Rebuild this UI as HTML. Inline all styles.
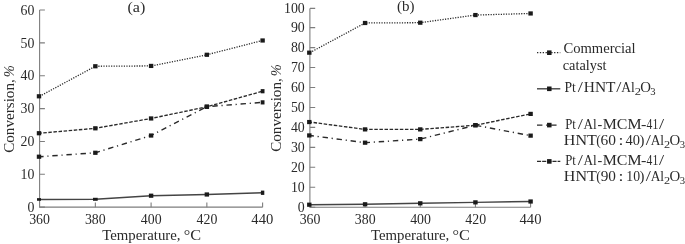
<!DOCTYPE html>
<html><head><meta charset="utf-8"><title>Conversion vs temperature</title>
<style>
html,body{margin:0;padding:0;background:#fff;}
svg{display:block;font-family:"Liberation Serif",serif;font-size:14.2px;fill:#2a2a2a;}
</style></head><body>
<svg width="685" height="244" viewBox="0 0 685 244">
<rect width="685" height="244" fill="#fff"/>
<g>
<path d="M39.6 10.0V207.15H262.6" fill="none" stroke="#7e7e7e" stroke-width="1.1"/>
<text y="211.85"><tspan x="27.50" textLength="6.92" lengthAdjust="spacingAndGlyphs">0</tspan></text>
<text y="178.99"><tspan x="20.58" textLength="13.84" lengthAdjust="spacingAndGlyphs">10</tspan></text>
<text y="146.13"><tspan x="20.58" textLength="13.84" lengthAdjust="spacingAndGlyphs">20</tspan></text>
<text y="113.28"><tspan x="20.58" textLength="13.84" lengthAdjust="spacingAndGlyphs">30</tspan></text>
<text y="80.42"><tspan x="20.58" textLength="13.84" lengthAdjust="spacingAndGlyphs">40</tspan></text>
<text y="47.56"><tspan x="20.58" textLength="13.84" lengthAdjust="spacingAndGlyphs">50</tspan></text>
<text y="14.70"><tspan x="20.58" textLength="13.84" lengthAdjust="spacingAndGlyphs">60</tspan></text>
<text y="223.65"><tspan x="29.15" textLength="20.77" lengthAdjust="spacingAndGlyphs">360</tspan></text>
<text y="223.65"><tspan x="84.90" textLength="20.77" lengthAdjust="spacingAndGlyphs">380</tspan></text>
<text y="223.65"><tspan x="140.84" textLength="20.77" lengthAdjust="spacingAndGlyphs">400</tspan></text>
<text y="223.65"><tspan x="196.59" textLength="20.77" lengthAdjust="spacingAndGlyphs">420</tspan></text>
<text y="223.65"><tspan x="251.36" textLength="21.94" lengthAdjust="spacingAndGlyphs">440</tspan></text>
<path d="M39.6 207.15h5.3M39.6 174.29h5.3M39.6 141.43h5.3M39.6 108.58h5.3M39.6 75.72h5.3M39.6 42.86h5.3M39.6 10.00h5.3M95.35 207.15v-4.7M151.10 207.15v-4.7M206.85 207.15v-4.7M262.60 207.15v-4.7" fill="none" stroke="#7e7e7e" stroke-width="1.1"/>
<text y="239.75"><tspan x="102.23" textLength="78.30" lengthAdjust="spacingAndGlyphs">Temperature,</tspan><tspan x="179.65" textLength="21.45" lengthAdjust="spacingAndGlyphs"> °C</tspan></text>
<text y="0.00" transform="translate(14.1 0) rotate(-90)"><tspan x="-152.82" textLength="77.36" lengthAdjust="spacingAndGlyphs">Conversion, </tspan><tspan x="-77.22" textLength="12.05" lengthAdjust="spacingAndGlyphs" font-style="italic">%</tspan></text>
<text y="11.60"><tspan x="127.49" textLength="17.81" lengthAdjust="spacingAndGlyphs">(a)</tspan></text>
<path d="M39.60 96.30L95.35 66.26L151.10 65.93L206.85 54.77L262.60 40.49" fill="none" stroke="#2a2a2a" stroke-width="1.3" stroke-dasharray="1.2 1.35"/>
<rect x="36.80" y="94.20" width="4.4" height="4.2" fill="#1a1a1a"/>
<rect x="93.15" y="64.16" width="4.4" height="4.2" fill="#1a1a1a"/>
<rect x="148.90" y="63.83" width="4.4" height="4.2" fill="#1a1a1a"/>
<rect x="204.65" y="52.67" width="4.4" height="4.2" fill="#1a1a1a"/>
<rect x="260.40" y="38.39" width="4.4" height="4.2" fill="#1a1a1a"/>
<path d="M39.60 133.23L95.35 128.31L151.10 118.46L206.85 106.80L262.60 91.21" fill="none" stroke="#2a2a2a" stroke-width="1.35" stroke-dasharray="3.5 1.6" stroke-dashoffset="1.4"/>
<rect x="36.80" y="131.13" width="4.4" height="4.2" fill="#1a1a1a"/>
<rect x="93.15" y="126.21" width="4.4" height="4.2" fill="#1a1a1a"/>
<rect x="148.90" y="116.36" width="4.4" height="4.2" fill="#1a1a1a"/>
<rect x="204.65" y="104.70" width="4.4" height="4.2" fill="#1a1a1a"/>
<rect x="260.70" y="89.11" width="3.8" height="4.2" fill="#1a1a1a"/>
<path d="M39.60 156.71L95.35 152.77L151.10 135.53L206.85 106.64L262.60 102.37" fill="none" stroke="#2a2a2a" stroke-width="1.4" stroke-dasharray="5.4 3.75 1.2 3.8" stroke-dashoffset="1.4"/>
<rect x="36.80" y="154.61" width="4.4" height="4.2" fill="#1a1a1a"/>
<rect x="93.15" y="150.67" width="4.4" height="4.2" fill="#1a1a1a"/>
<rect x="148.90" y="133.43" width="4.4" height="4.2" fill="#1a1a1a"/>
<rect x="204.65" y="104.54" width="4.4" height="4.2" fill="#1a1a1a"/>
<rect x="260.70" y="100.27" width="3.8" height="4.2" fill="#1a1a1a"/>
<path d="M39.60 199.45L95.35 199.29L151.10 195.71L206.85 194.49L262.60 192.75" fill="none" stroke="#444444" stroke-width="1.4"/>
<rect x="37.00" y="198.15" width="4.0" height="2.6" fill="#1a1a1a"/>
<rect x="93.00" y="197.79" width="4.7" height="3.0" fill="#1a1a1a"/>
<rect x="148.90" y="193.61" width="4.4" height="4.2" fill="#1a1a1a"/>
<rect x="204.65" y="192.39" width="4.4" height="4.2" fill="#1a1a1a"/>
<rect x="260.90" y="190.60" width="3.4" height="4.3" fill="#1a1a1a"/>
</g>
<g>
<path d="M309.9 8.4V207.2H530.6" fill="none" stroke="#7e7e7e" stroke-width="1.1"/>
<text y="211.90"><tspan x="297.80" textLength="6.92" lengthAdjust="spacingAndGlyphs">0</tspan></text>
<text y="191.95"><tspan x="290.88" textLength="13.84" lengthAdjust="spacingAndGlyphs">10</tspan></text>
<text y="172.00"><tspan x="290.88" textLength="13.84" lengthAdjust="spacingAndGlyphs">20</tspan></text>
<text y="152.05"><tspan x="290.88" textLength="13.85" lengthAdjust="spacingAndGlyphs">30</tspan></text>
<text y="132.10"><tspan x="290.88" textLength="13.84" lengthAdjust="spacingAndGlyphs">40</tspan></text>
<text y="112.15"><tspan x="290.88" textLength="13.84" lengthAdjust="spacingAndGlyphs">50</tspan></text>
<text y="92.20"><tspan x="290.88" textLength="13.84" lengthAdjust="spacingAndGlyphs">60</tspan></text>
<text y="72.25"><tspan x="290.88" textLength="13.85" lengthAdjust="spacingAndGlyphs">70</tspan></text>
<text y="52.30"><tspan x="290.88" textLength="13.84" lengthAdjust="spacingAndGlyphs">80</tspan></text>
<text y="32.35"><tspan x="290.88" textLength="13.85" lengthAdjust="spacingAndGlyphs">90</tspan></text>
<text y="13.10"><tspan x="283.96" textLength="20.77" lengthAdjust="spacingAndGlyphs">100</tspan></text>
<text y="223.70"><tspan x="299.65" textLength="20.77" lengthAdjust="spacingAndGlyphs">360</tspan></text>
<text y="223.70"><tspan x="354.82" textLength="20.77" lengthAdjust="spacingAndGlyphs">380</tspan></text>
<text y="223.70"><tspan x="410.19" textLength="20.77" lengthAdjust="spacingAndGlyphs">400</tspan></text>
<text y="223.70"><tspan x="465.37" textLength="20.77" lengthAdjust="spacingAndGlyphs">420</tspan></text>
<text y="223.70"><tspan x="519.56" textLength="21.94" lengthAdjust="spacingAndGlyphs">440</tspan></text>
<path d="M309.9 207.20h5.3M309.9 187.25h5.3M309.9 167.30h5.3M309.9 147.35h5.3M309.9 127.40h5.3M309.9 107.45h5.3M309.9 87.50h5.3M309.9 67.55h5.3M309.9 47.60h5.3M309.9 27.65h5.3M309.9 8.40h5.3M365.07 207.2v-4.7M420.25 207.2v-4.7M475.43 207.2v-4.7M530.60 207.2v-4.7" fill="none" stroke="#7e7e7e" stroke-width="1.1"/>
<text y="239.75"><tspan x="370.98" textLength="78.30" lengthAdjust="spacingAndGlyphs">Temperature,</tspan><tspan x="448.40" textLength="21.45" lengthAdjust="spacingAndGlyphs"> °C</tspan></text>
<text y="0.00" transform="translate(281.3 0) rotate(-90)"><tspan x="-151.82" textLength="77.36" lengthAdjust="spacingAndGlyphs">Conversion, </tspan><tspan x="-76.22" textLength="12.05" lengthAdjust="spacingAndGlyphs" font-style="italic">%</tspan></text>
<text y="11.40"><tspan x="397.04" textLength="17.52" lengthAdjust="spacingAndGlyphs">(b)</tspan></text>
<path d="M309.90 52.67L365.07 22.99L420.25 22.69L475.43 15.05L530.60 13.46" fill="none" stroke="#2a2a2a" stroke-width="1.3" stroke-dasharray="1.2 1.35"/>
<rect x="307.10" y="50.57" width="4.4" height="4.2" fill="#1a1a1a"/>
<rect x="362.88" y="20.89" width="4.4" height="4.2" fill="#1a1a1a"/>
<rect x="418.05" y="20.59" width="4.4" height="4.2" fill="#1a1a1a"/>
<rect x="473.23" y="12.95" width="4.4" height="4.2" fill="#1a1a1a"/>
<rect x="528.40" y="11.36" width="4.4" height="4.2" fill="#1a1a1a"/>
<path d="M309.90 122.04L365.07 129.39L420.25 129.39L475.43 125.22L530.60 113.90" fill="none" stroke="#2a2a2a" stroke-width="1.35" stroke-dasharray="3.5 1.6" stroke-dashoffset="1.4"/>
<rect x="307.10" y="119.94" width="4.4" height="4.2" fill="#1a1a1a"/>
<rect x="362.88" y="127.29" width="4.4" height="4.2" fill="#1a1a1a"/>
<rect x="418.05" y="127.29" width="4.4" height="4.2" fill="#1a1a1a"/>
<rect x="473.23" y="123.12" width="4.4" height="4.2" fill="#1a1a1a"/>
<rect x="528.40" y="111.80" width="4.4" height="4.2" fill="#1a1a1a"/>
<path d="M309.90 135.44L365.07 142.69L420.25 139.11L475.43 125.22L530.60 135.64" fill="none" stroke="#2a2a2a" stroke-width="1.4" stroke-dasharray="5.4 3.75 1.2 3.8" stroke-dashoffset="1.4"/>
<rect x="307.10" y="133.34" width="4.4" height="4.2" fill="#1a1a1a"/>
<rect x="362.88" y="140.59" width="4.4" height="4.2" fill="#1a1a1a"/>
<rect x="418.05" y="137.01" width="4.4" height="4.2" fill="#1a1a1a"/>
<rect x="473.23" y="123.12" width="4.4" height="4.2" fill="#1a1a1a"/>
<rect x="528.40" y="133.54" width="4.4" height="4.2" fill="#1a1a1a"/>
<path d="M309.90 204.72L365.07 204.30L420.25 203.31L475.43 202.36L530.60 201.50" fill="none" stroke="#444444" stroke-width="1.4"/>
<rect x="307.10" y="202.62" width="4.4" height="4.2" fill="#1a1a1a"/>
<rect x="362.88" y="202.20" width="4.4" height="4.2" fill="#1a1a1a"/>
<rect x="418.05" y="201.21" width="4.4" height="4.2" fill="#1a1a1a"/>
<rect x="473.23" y="200.26" width="4.4" height="4.2" fill="#1a1a1a"/>
<rect x="528.40" y="199.40" width="4.4" height="4.2" fill="#1a1a1a"/>
</g>
<g>
<path d="M537 52.7H560.3" fill="none" stroke="#2a2a2a" stroke-width="1.3" stroke-dasharray="1.3 1.55"/>
<rect x="547.05" y="50.40" width="4.5" height="4.6" fill="#1a1a1a"/>
<path d="M537 88.8H560.3" fill="none" stroke="#444444" stroke-width="1.4"/>
<rect x="547.05" y="86.50" width="4.5" height="4.6" fill="#1a1a1a"/>
<path d="M537 125.1H557.5" fill="none" stroke="#2a2a2a" stroke-width="1.4" stroke-dasharray="5.4 3.75 1.2 3.8"/>
<rect x="547.05" y="122.80" width="4.5" height="4.6" fill="#1a1a1a"/>
<path d="M537 161.4H560.3" fill="none" stroke="#2a2a2a" stroke-width="1.35" stroke-dasharray="4.1 1.05"/>
<rect x="547.05" y="159.10" width="4.5" height="4.6" fill="#1a1a1a"/>
<text y="53.00"><tspan x="563.40" textLength="72.29" lengthAdjust="spacingAndGlyphs">Commercial</tspan></text>
<text y="69.70"><tspan x="562.75" textLength="43.83" lengthAdjust="spacingAndGlyphs">catalyst</tspan></text>
<text y="91.70"><tspan x="564.40" textLength="11.38" lengthAdjust="spacingAndGlyphs">Pt</tspan><tspan x="577.73" textLength="5.13" lengthAdjust="spacingAndGlyphs">/</tspan><tspan x="583.75" textLength="31.71" lengthAdjust="spacingAndGlyphs">HNT</tspan><tspan x="616.38" textLength="5.13" lengthAdjust="spacingAndGlyphs">/</tspan><tspan x="621.26" textLength="13.51" lengthAdjust="spacingAndGlyphs">Al</tspan><tspan x="634.85" textLength="6.23" lengthAdjust="spacingAndGlyphs" dy="3.1" font-size="10.2">2</tspan><tspan x="640.19" textLength="10.72" lengthAdjust="spacingAndGlyphs" dy="-3.1">O</tspan><tspan x="650.29" textLength="5.33" lengthAdjust="spacingAndGlyphs" dy="3.1" font-size="10.2">3</tspan></text>
<text y="128.60"><tspan x="565.13" textLength="10.65" lengthAdjust="spacingAndGlyphs">Pt</tspan><tspan x="577.73" textLength="5.13" lengthAdjust="spacingAndGlyphs">/</tspan><tspan x="583.57" textLength="13.20" lengthAdjust="spacingAndGlyphs">Al</tspan><tspan x="597.47" textLength="4.74" lengthAdjust="spacingAndGlyphs">-</tspan><tspan x="602.74" textLength="38.83" lengthAdjust="spacingAndGlyphs">MCM</tspan><tspan x="641.00" textLength="5.38" lengthAdjust="spacingAndGlyphs">-</tspan><tspan x="646.57" textLength="11.63" lengthAdjust="spacingAndGlyphs">41</tspan><tspan x="658.93" textLength="5.13" lengthAdjust="spacingAndGlyphs">/</tspan></text>
<text y="144.70"><tspan x="563.84" textLength="32.94" lengthAdjust="spacingAndGlyphs">HNT</tspan><tspan x="596.20" textLength="4.54" lengthAdjust="spacingAndGlyphs">(</tspan><tspan x="600.64" textLength="15.45" lengthAdjust="spacingAndGlyphs">60</tspan><tspan x="613.94" textLength="13.84" lengthAdjust="spacingAndGlyphs"> : </tspan><tspan x="625.61" textLength="14.44" lengthAdjust="spacingAndGlyphs">40</tspan><tspan x="639.43" textLength="4.92" lengthAdjust="spacingAndGlyphs">)</tspan><tspan x="645.78" textLength="5.13" lengthAdjust="spacingAndGlyphs">/</tspan><tspan x="650.67" textLength="13.40" lengthAdjust="spacingAndGlyphs">Al</tspan><tspan x="664.06" textLength="6.11" lengthAdjust="spacingAndGlyphs" dy="3.1" font-size="10.2">2</tspan><tspan x="669.49" textLength="10.72" lengthAdjust="spacingAndGlyphs" dy="-3.1">O</tspan><tspan x="679.69" textLength="5.33" lengthAdjust="spacingAndGlyphs" dy="3.1" font-size="10.2">3</tspan></text>
<text y="164.50"><tspan x="565.13" textLength="10.65" lengthAdjust="spacingAndGlyphs">Pt</tspan><tspan x="577.73" textLength="5.13" lengthAdjust="spacingAndGlyphs">/</tspan><tspan x="583.57" textLength="13.20" lengthAdjust="spacingAndGlyphs">Al</tspan><tspan x="597.47" textLength="4.74" lengthAdjust="spacingAndGlyphs">-</tspan><tspan x="602.74" textLength="38.83" lengthAdjust="spacingAndGlyphs">MCM</tspan><tspan x="641.00" textLength="5.38" lengthAdjust="spacingAndGlyphs">-</tspan><tspan x="646.57" textLength="11.63" lengthAdjust="spacingAndGlyphs">41</tspan><tspan x="658.93" textLength="5.13" lengthAdjust="spacingAndGlyphs">/</tspan></text>
<text y="180.60"><tspan x="563.84" textLength="32.94" lengthAdjust="spacingAndGlyphs">HNT</tspan><tspan x="596.20" textLength="4.54" lengthAdjust="spacingAndGlyphs">(</tspan><tspan x="600.71" textLength="15.27" lengthAdjust="spacingAndGlyphs">90</tspan><tspan x="613.94" textLength="13.84" lengthAdjust="spacingAndGlyphs"> : </tspan><tspan x="626.29" textLength="13.73" lengthAdjust="spacingAndGlyphs">10</tspan><tspan x="639.43" textLength="4.92" lengthAdjust="spacingAndGlyphs">)</tspan><tspan x="645.78" textLength="5.13" lengthAdjust="spacingAndGlyphs">/</tspan><tspan x="650.67" textLength="13.40" lengthAdjust="spacingAndGlyphs">Al</tspan><tspan x="664.06" textLength="6.11" lengthAdjust="spacingAndGlyphs" dy="3.1" font-size="10.2">2</tspan><tspan x="669.49" textLength="10.72" lengthAdjust="spacingAndGlyphs" dy="-3.1">O</tspan><tspan x="679.69" textLength="5.33" lengthAdjust="spacingAndGlyphs" dy="3.1" font-size="10.2">3</tspan></text>
</g>
</svg>
</body></html>
